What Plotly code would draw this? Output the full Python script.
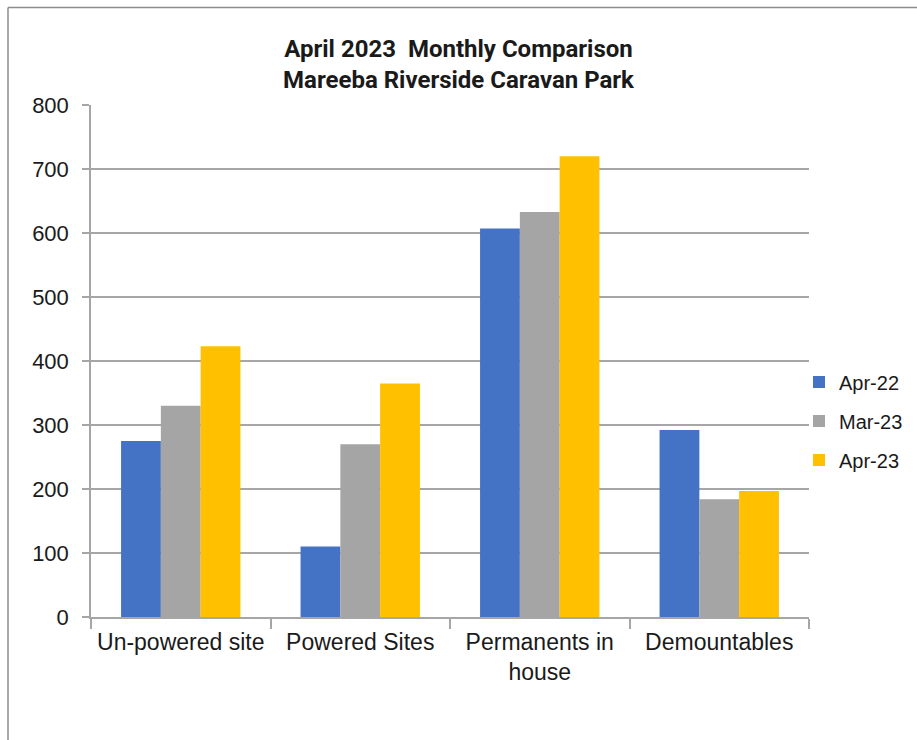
import plotly.graph_objects as go

categories = ["Un-powered site", "Powered Sites", "Permanents in<br>house", "Demountables"]
series_names = ["Apr-22", "Mar-23", "Apr-23"]
apr22 = [275, 110, 607, 292]
mar23 = [330, 270, 633, 184]
apr23 = [423, 365, 720, 197]
series_values = [apr22, mar23, apr23]
colors = ["#4472C4", "#A5A5A5", "#FFC000"]
y_ticks = [0, 100, 200, 300, 400, 500, 600, 700, 800]

W, H = 917, 740
L, R, T, B = 91, 917 - 809, 105, 740 - 617
pw, ph = W - L - R, H - T - B

fig = go.Figure()
for name, vals, col in zip(series_names, series_values, colors):
    fig.add_trace(go.Bar(name=name, x=categories, y=vals, marker_color=col,
                         marker_line_width=0, legendgroup=name))

def px_x(p):
    return (p - L) / pw

def px_y(p):
    return (H - B - p) / ph

axis_col = "#A6A6A6"
fig.update_layout(
    width=W, height=H,
    margin=dict(l=L, r=R, t=T, b=B, pad=0, autoexpand=False),
    paper_bgcolor="white", plot_bgcolor="white",
    barmode="group", bargap=0.335, bargroupgap=0,
    font=dict(family="Liberation Sans, Arial", size=22, color="#1a1a1a"),
    title=dict(text="April 2023  Monthly Comparison<br>Mareeba Riverside Caravan Park",
               x=0.5, xref="container", xanchor="center",
               y=1 - 57 / H, yref="container", yanchor="middle",
               font=dict(family="Roboto", size=24, weight="bold", color="#1a1a1a")),
    legend=dict(x=px_x(799), xanchor="left", y=px_y(421), yanchor="middle",
                font=dict(size=20), tracegroupgap=10, traceorder="grouped",
                bgcolor="rgba(0,0,0,0)"),
    xaxis=dict(showline=True, linecolor=axis_col, linewidth=1.5,
               ticks="outside", tickson="boundaries", ticklen=10, tickcolor=axis_col,
               tickwidth=1.5, showgrid=False, tickfont=dict(size=23), tickangle=0,
               automargin=False, ticklabelstandoff=4),
    yaxis=dict(range=[0, 800], tickvals=y_ticks, showline=True, linecolor=axis_col,
               linewidth=1.5, ticks="outside", ticklen=7, tickcolor=axis_col, tickwidth=1.5,
               showgrid=True, gridcolor=axis_col, gridwidth=1.5, zeroline=False,
               tickfont=dict(size=22), ticklabelstandoff=9, automargin=False),
    shapes=[
        dict(type="line", xref="paper", yref="paper", x0=px_x(8), x1=px_x(917),
             y0=px_y(7.5), y1=px_y(7.5), line=dict(color="#8C8C8C", width=1.5)),
        dict(type="line", xref="paper", yref="paper", x0=px_x(8), x1=px_x(8),
             y0=px_y(7.5), y1=px_y(745), line=dict(color="#8C8C8C", width=1.5)),
    ],
)

fig.write_html("out.html", config={"displayModeBar": False},
               post_script="document.body.style.margin='0';")
